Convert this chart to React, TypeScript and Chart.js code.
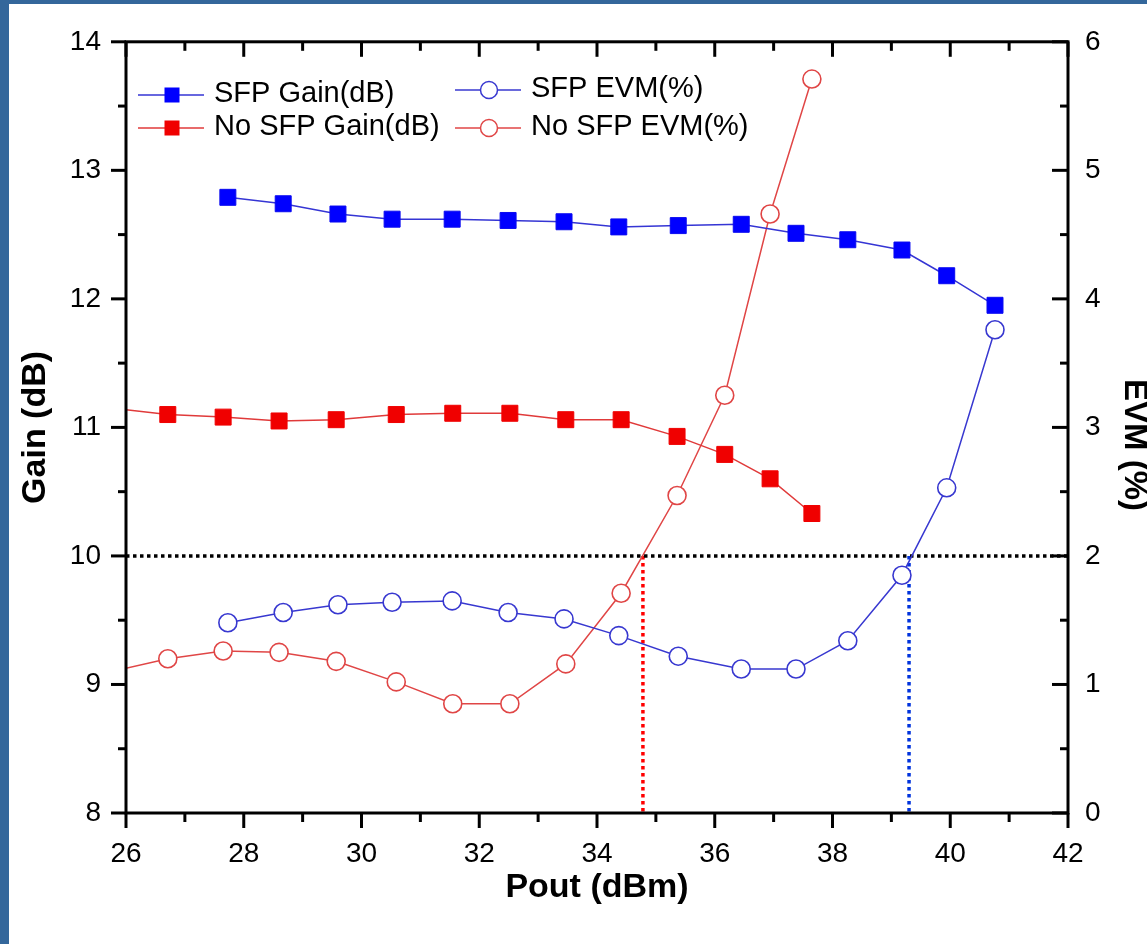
import React, { useEffect, useRef } from 'react';
import { Chart, registerables } from 'chart.js';

Chart.register(...registerables);

// ---- data ----
const poutSFP = [27.73, 28.67, 29.6, 30.52, 31.54, 32.49, 33.44, 34.37, 35.38, 36.45, 37.38, 38.26, 39.18, 39.94, 40.76];
const gainSFP = [12.79, 12.74, 12.66, 12.62, 12.62, 12.61, 12.6, 12.56, 12.57, 12.58, 12.51, 12.46, 12.38, 12.18, 11.95];
const evmSFP = [1.48, 1.56, 1.62, 1.64, 1.65, 1.56, 1.51, 1.38, 1.22, 1.12, 1.12, 1.34, 1.85, 2.53, 3.76];

const poutNoSFP = [25.75, 26.71, 27.65, 28.6, 29.57, 30.59, 31.55, 32.52, 33.47, 34.41, 35.36, 36.17, 36.94, 37.65];
const gainNoSFP = [11.15, 11.1, 11.08, 11.05, 11.06, 11.1, 11.11, 11.11, 11.06, 11.06, 10.93, 10.79, 10.6, 10.33];
const evmNoSFP = [1.1, 1.2, 1.26, 1.25, 1.18, 1.02, 0.85, 0.85, 1.16, 1.71, 2.47, 3.25, 4.66, 5.71];

const evmLimit = 2;
const crossNoSFP = 34.78;
const crossSFP = 39.3;

const xTicks = [26, 28, 30, 32, 34, 36, 38, 40, 42];
const gainTicks = [8, 9, 10, 11, 12, 13, 14];
const evmTicks = [0, 1, 2, 3, 4, 5, 6];

const labels = ['SFP Gain(dB)', 'No SFP Gain(dB)', 'SFP EVM(%)', 'No SFP EVM(%)'];

// ---- styling ----
const FONT = 'Liberation Sans, Arial, Helvetica, sans-serif';
const W = 1147;
const H = 944;

const legendPos = [
  { x: 138, y: 95 },
  { x: 138, y: 128 },
  { x: 455, y: 90 },
  { x: 455, y: 128 },
];

const toXY = (xs: number[], ys: number[]) => xs.map((x, i) => ({ x, y: ys[i] }));

const framePlugin = {
  id: 'frameTicks',
  afterDraw(chart: any) {
    const { ctx, chartArea } = chart;
    const { left, right, top, bottom } = chartArea;
    const xs = chart.scales.x;
    const ys = chart.scales.y;
    const y2 = chart.scales.y2;
    ctx.save();
    ctx.strokeStyle = '#000';
    ctx.lineWidth = 3;
    const line = (a: number, b: number, c: number, d: number) => {
      ctx.beginPath();
      ctx.moveTo(a, b);
      ctx.lineTo(c, d);
      ctx.stroke();
    };
    ctx.strokeRect(left, top, right - left, bottom - top);
    xTicks.forEach((v, i) => {
      const p = xs.getPixelForValue(v);
      line(p, bottom, p, bottom + 15);
      line(p, top, p, top + 15);
      if (i < xTicks.length - 1) {
        const m = xs.getPixelForValue((v + xTicks[i + 1]) / 2);
        line(m, bottom, m, bottom + 9);
        line(m, top, m, top + 9);
      }
    });
    gainTicks.forEach((v, i) => {
      const p = ys.getPixelForValue(v);
      line(left - 15, p, left, p);
      if (i < gainTicks.length - 1) {
        const m = ys.getPixelForValue((v + gainTicks[i + 1]) / 2);
        line(left - 8, m, left, m);
      }
    });
    evmTicks.forEach((v, i) => {
      const p = y2.getPixelForValue(v);
      line(right - 16, p, right, p);
      if (i < evmTicks.length - 1) {
        const m = y2.getPixelForValue((v + evmTicks[i + 1]) / 2);
        line(right - 8, m, right, m);
      }
    });

    // right axis title
    ctx.save();
    ctx.translate(1134, 445);
    ctx.rotate(Math.PI / 2);
    ctx.fillStyle = '#000';
    ctx.font = `bold 33px ${FONT}`;
    ctx.textAlign = 'center';
    ctx.textBaseline = 'middle';
    ctx.fillText('EVM (%)', 0, 0);
    ctx.restore();

    // legend
    legendPos.forEach((pos, i) => {
      const ds = chart.data.datasets[i];
      ctx.strokeStyle = ds.borderColor;
      ctx.lineWidth = 1.5;
      line(pos.x, pos.y, pos.x + 66, pos.y);
      const cx = pos.x + 34;
      if (ds.pointStyle === 'rect') {
        ctx.fillStyle = ds.pointBackgroundColor;
        ctx.fillRect(cx - 7.5, pos.y - 7.5, 15, 15);
      } else {
        ctx.beginPath();
        ctx.arc(cx, pos.y, 8.5, 0, Math.PI * 2);
        ctx.fillStyle = '#fff';
        ctx.fill();
        ctx.strokeStyle = ds.pointBorderColor;
        ctx.lineWidth = 1.5;
        ctx.stroke();
      }
      ctx.fillStyle = '#000';
      ctx.font = `29px ${FONT}`;
      ctx.textAlign = 'left';
      ctx.textBaseline = 'middle';
      ctx.fillText(ds.label, pos.x + 76, pos.y - 1.5);
    });
    ctx.restore();
  },
};

export default function App() {
  const ref = useRef<HTMLCanvasElement | null>(null);

  useEffect(() => {
    if (!ref.current) return;
    const tickFont = { family: FONT, size: 28 };
    const titleFont = { family: FONT, size: 34, weight: 'bold' as const };
    const chart = new Chart(ref.current, {
      type: 'line',
      data: {
        datasets: [
          {
            label: labels[0],
            data: toXY(poutSFP, gainSFP),
            yAxisID: 'y',
            borderColor: '#3535D4',
            borderWidth: 1.5,
            pointStyle: 'rect',
            pointRadius: 11.3,
            pointBackgroundColor: '#0000FF',
            pointBorderColor: '#0A0AF0',
            pointBorderWidth: 1,
          },
          {
            label: labels[1],
            data: toXY(poutNoSFP, gainNoSFP),
            yAxisID: 'y',
            borderColor: '#E03A3A',
            borderWidth: 1.5,
            pointStyle: 'rect',
            pointRadius: 11.3,
            pointBackgroundColor: '#F00000',
            pointBorderColor: '#F00000',
            pointBorderWidth: 1,
          },
          {
            label: labels[2],
            data: toXY(poutSFP, evmSFP),
            yAxisID: 'y2',
            borderColor: '#3838D0',
            borderWidth: 1.5,
            pointStyle: 'circle',
            pointRadius: 9,
            pointBackgroundColor: '#FFFFFF',
            pointBorderColor: '#3838D0',
            pointBorderWidth: 1.6,
          },
          {
            label: labels[3],
            data: toXY(poutNoSFP, evmNoSFP),
            yAxisID: 'y2',
            borderColor: '#E04646',
            borderWidth: 1.5,
            pointStyle: 'circle',
            pointRadius: 9,
            pointBackgroundColor: '#FFFFFF',
            pointBorderColor: '#E04646',
            pointBorderWidth: 1.6,
          },
          {
            label: 'limit',
            data: [
              { x: xTicks[0], y: evmLimit },
              { x: xTicks[xTicks.length - 1], y: evmLimit },
            ],
            yAxisID: 'y2',
            borderColor: '#000000',
            borderWidth: 3.5,
            borderDash: [3.5, 3.5],
            pointRadius: 0,
          },
          {
            label: 'crossNoSFP',
            data: [
              { x: crossNoSFP, y: evmLimit },
              { x: crossNoSFP, y: evmTicks[0] },
            ],
            yAxisID: 'y2',
            borderColor: '#FF0000',
            borderWidth: 3.5,
            borderDash: [3.5, 3.5],
            pointRadius: 0,
          },
          {
            label: 'crossSFP',
            data: [
              { x: crossSFP, y: evmLimit },
              { x: crossSFP, y: evmTicks[0] },
            ],
            yAxisID: 'y2',
            borderColor: '#0033DD',
            borderWidth: 3.5,
            borderDash: [3.5, 3.5],
            pointRadius: 0,
          },
        ],
      },
      options: {
        responsive: false,
        animation: false,
        devicePixelRatio: 1,
        layout: { padding: { top: 38, left: 0, right: 0, bottom: 0 } },
        plugins: { legend: { display: false }, tooltip: { enabled: false } },
        scales: {
          x: {
            type: 'linear',
            position: 'bottom',
            min: xTicks[0],
            max: xTicks[xTicks.length - 1],
            afterBuildTicks: (s: any) => {
              s.ticks = xTicks.map((v) => ({ value: v }));
            },
            afterFit: (s: any) => {
              s.height = 131;
            },
            grid: { display: false, drawTicks: false },
            border: { display: false },
            ticks: { font: tickFont, color: '#000', padding: 24, maxRotation: 0, autoSkip: false },
            title: { display: true, text: 'Pout (dBm)', font: titleFont, color: '#000', padding: { top: 0, bottom: 36 } },
          },
          y: {
            position: 'left',
            min: gainTicks[0],
            max: gainTicks[gainTicks.length - 1],
            afterBuildTicks: (s: any) => {
              s.ticks = gainTicks.map((v) => ({ value: v }));
            },
            afterFit: (s: any) => {
              s.width = 126;
            },
            grid: { display: false, drawTicks: false },
            border: { display: false },
            ticks: { font: tickFont, color: '#000', padding: 25 },
            title: { display: true, text: 'Gain (dB)', font: titleFont, color: '#000', padding: { top: 15, bottom: 0 } },
          },
          y2: {
            position: 'right',
            min: evmTicks[0],
            max: evmTicks[evmTicks.length - 1],
            afterBuildTicks: (s: any) => {
              s.ticks = evmTicks.map((v) => ({ value: v }));
            },
            afterFit: (s: any) => {
              s.width = 79;
            },
            grid: { display: false, drawTicks: false },
            border: { display: false },
            ticks: { font: tickFont, color: '#000', padding: 17 },
          },
        },
      },
      plugins: [framePlugin],
    } as any);
    return () => chart.destroy();
  }, []);

  return (
    <div style={{ position: 'fixed', left: 0, top: 0, width: W, height: H, background: '#34679B', overflow: 'hidden' }}>
      <div style={{ position: 'absolute', left: 9, top: 4, right: 0, bottom: 0, background: '#FFFFFF' }} />
      <canvas ref={ref} width={W} height={H} style={{ position: 'absolute', left: 0, top: 0, width: W, height: H }} />
    </div>
  );
}
